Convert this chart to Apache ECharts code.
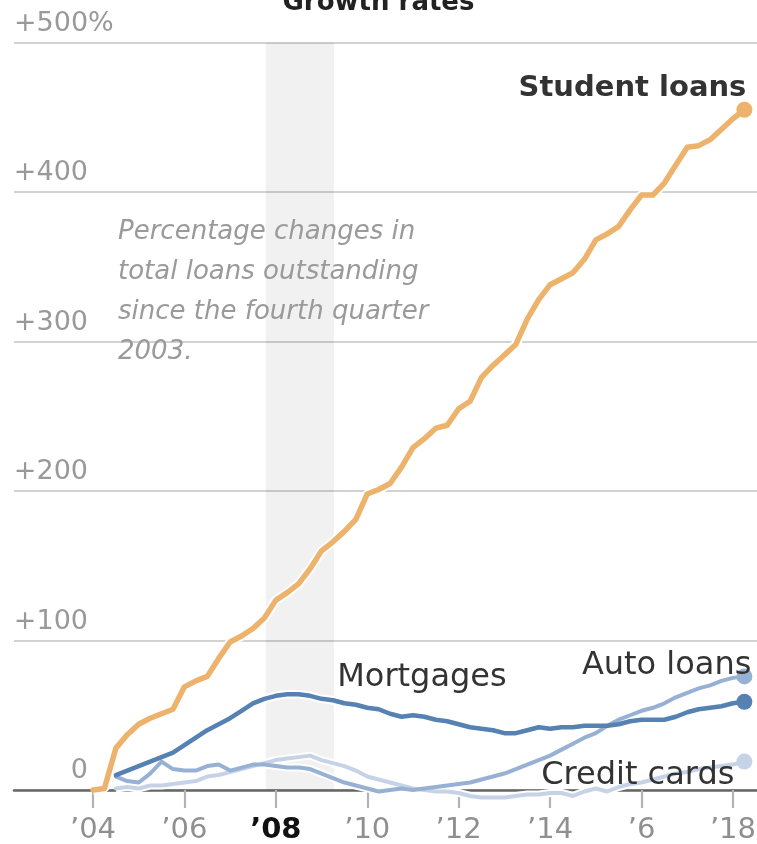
<!DOCTYPE html>
<html><head><meta charset="utf-8">
<script src="https://cdn.jsdelivr.net/npm/echarts@6/dist/echarts.min.js"></script>
<style>html,body{margin:0;padding:0;background:#fff}#c{width:757px;height:844px}</style>
</head><body><div id="c"></div>
<script>
// Quarterly data, first point = Q4 2003 (plotted at quarter end, 2004.0)
const FIRST_QUARTER = 2004.0;
const studentLoans = [0,1,28,37,44,48,51,54,69,73,76,88,99,103,108,115,127,132,138,148,160,166,173,181,198,201,205,216,229,235,242,244,255,260,276,284,291,298,315,328,338,342,346,355,368,372,377,388,398,398,406,418,430,431,435,442,449,455];
const mortgages = [null,null,10,13,16,19,22,25,30,35,40,44,48,53,58,61,63,64,64,63,61,60,58,57,55,54,51,49,50,49,47,46,44,42,41,40,38,38,40,42,41,42,42,43,43,43,44,46,47,47,47,49,52,54,55,56,58,59];
const autoLoans = [null,null,9,6,5,11,19,14,13,13,16,17,13,15,17,17,16,15,15,14,11,8,5,3,1,-1,0,1,0,1,2,3,4,5,7,9,11,14,17,20,23,27,31,35,38,43,47,50,53,55,58,62,65,68,70,73,75,76];
const creditCards = [null,null,1,2,1,3,3,4,5,6,9,10,12,14,16,18,20,21,22,23,20,18,16,13,9,7,5,3,1,0,-1,-1,-2,-4,-5,-5,-5,-4,-3,-3,-2,-2,-4,-1,1,-1,2,4,5,7,9,11,12,14,15,16,17,19];

const xTickYears = [2004,2006,2008,2010,2012,2014,2016,2018];
const xTickLabels = ['’04','’06','’08','’10','’12','’14','’6','’18'];
const boldYear = 2008;
const yTickValues = [0,100,200,300,400,500];
const yTickLabels = ['0','+100','+200','+300','+400','+500'];
const recession = [2007.78, 2009.27];
const mortgageLabelIndex = 28;

const FONT = 'DejaVu Sans';
const quarters = studentLoans.map((_, i) => FIRST_QUARTER + i / 4);
const pairs = arr => arr.map((v, i) => [quarters[i], v]).filter(p => p[1] !== null);

const defs = [
  {name:'Credit cards', data:creditCards, color:'#c6d3e7', width:4, off:[-10,14], bold:false},
  {name:'Auto loans', data:autoLoans, color:'#97b1d4', width:4, off:[7,-11], bold:false},
  {name:'Mortgages', data:mortgages, color:'#5581b3', width:4.5, off:null, bold:false},
  {name:'Student loans', data:studentLoans, color:'#edb26c', width:5.5, off:[2,-21], bold:true}
];

const series = [];
defs.forEach(d => {
  series.push({
    type:'line', name:d.name+' halo', data:pairs(d.data), z:1, silent:true,
    symbol:'none', clip:false, animation:false,
    lineStyle:{color:'#fff', width:d.width+4}
  });
});
// recession band + x-axis tick marks (below the zero line)
series.push({
  type:'line', data:[], z:2, silent:true, animation:false, clip:false,
  markArea:{silent:true, itemStyle:{color:'rgba(0,0,0,0.055)'},
    data:[[{xAxis:recession[0]},{xAxis:recession[1]}]]},
  markLine:{silent:true, animation:false, symbol:['none','none'], label:{show:false},
    lineStyle:{color:'#b3b3b3', width:2.2, type:'solid'},
    data:xTickYears.map(yr => [{coord:[yr, -2]}, {coord:[yr, -12.5]}])}
});
defs.forEach(d => {
  const p = pairs(d.data);
  const last = p[p.length-1];
  const mp = [];
  if (d.off) {
    mp.push({coord:last, symbol:'circle', symbolSize:16, itemStyle:{color:d.color},
      label:{show:true, position:'inside', align:'right', verticalAlign:'middle', offset:d.off,
        formatter:d.name, fontFamily:FONT, fontSize:d.bold?29:32, fontWeight:d.bold?'bold':'normal', color:'#333'}});
  } else {
    mp.push({coord:last, symbol:'circle', symbolSize:16, itemStyle:{color:d.color}, label:{show:false}});
    mp.push({coord:[quarters[mortgageLabelIndex], d.data[mortgageLabelIndex]], symbol:'circle', symbolSize:0,
      label:{show:true, position:'inside', align:'center', verticalAlign:'middle', offset:[9,-38],
        formatter:d.name, fontFamily:FONT, fontSize:32, color:'#333'}});
  }
  series.push({
    type:'line', name:d.name, data:p, z:3, silent:true, symbol:'none', clip:false, animation:false,
    lineStyle:{color:d.color, width:d.width, join:'round', cap:'round'},
    markPoint:{silent:true, animation:false, data:mp}
  });
});

const chart = echarts.init(document.getElementById('c'), null, {renderer:'canvas'});
chart.setOption({
  animation:false,
  backgroundColor:'#fff',
  textStyle:{fontFamily:FONT},
  grid:{left:14, right:0, top:42.5, bottom:54, containLabel:false, outerBoundsMode:'none'},
  xAxis:{
    type:'value', min:2002.272, max:2018.526,
    axisLine:{show:true, onZero:true, lineStyle:{color:'#666', width:2.5}},
    axisTick:{show:true, customValues:xTickYears, length:18, lineStyle:{color:'#b3b3b3', width:2.2}},
    axisLabel:{show:true, customValues:xTickYears, margin:23, fontSize:29, lineHeight:34, color:'#8f8f8f', fontFamily:FONT,
      formatter:v => { const i = xTickYears.indexOf(v); const t = xTickLabels[i]; return v === boldYear ? '{b|'+t+'}' : t; },
      rich:{b:{fontSize:29, lineHeight:34, fontWeight:'bold', color:'#111', fontFamily:FONT}}},
    splitLine:{show:false}
  },
  yAxis:{
    type:'value', min:0, max:500, interval:100,
    axisLine:{show:false}, axisTick:{show:false},
    splitLine:{show:true, lineStyle:{color:'#d2d2d2', width:2}},
    axisLabel:{show:true, inside:true, margin:0, verticalAlign:'bottom', align:'left',
      formatter:v => { const i = yTickValues.indexOf(v); const t = yTickLabels[i]; return v === 500 ? '{n|'+t+'}{p|%}' : '{n|'+t+'}'; },
      rich:{n:{width:74, align:'right', fontSize:27, lineHeight:38, color:'#999', fontFamily:FONT},
            p:{fontSize:27, lineHeight:38, color:'#999', fontFamily:FONT}}}
  },
  graphic:[
    {type:'text', left:'center', top:-10, silent:true, z:10,
      style:{text:'Growth rates', fontFamily:FONT, fontSize:26, fontWeight:'bold', fill:'#222'}},
    {type:'text', left:118, top:212, silent:true, z:10,
      style:{text:'Percentage changes in\ntotal loans outstanding\nsince the fourth quarter\n2003.',
        fontFamily:FONT, fontSize:26, fontStyle:'italic', lineHeight:40, fill:'#9a9a9a'}}
  ],
  series:series
});
</script></body></html>
